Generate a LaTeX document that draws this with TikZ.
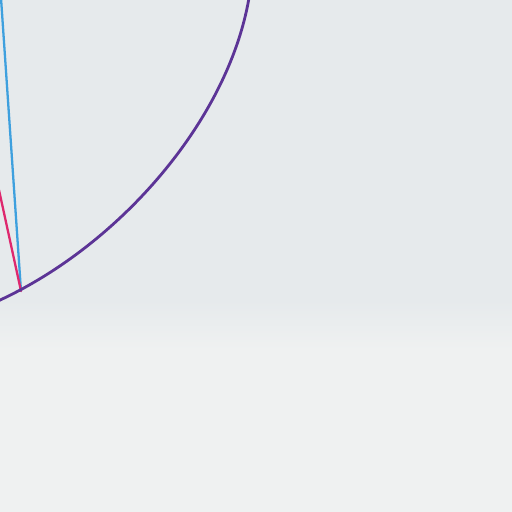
\documentclass[tikz,border=0pt]{standalone}
\usetikzlibrary{calc}
\definecolor{paper}{RGB}{230,234,236}
\definecolor{paperlow}{RGB}{239,241,241}
\definecolor{inkpurple}{RGB}{92,52,150}
\definecolor{inkblue}{RGB}{62,160,222}
\definecolor{inkpink}{RGB}{222,40,110}
\begin{document}
\begin{tikzpicture}[x=0.02cm, y=-0.02cm]
  \tikzstyle{pen} = [line width=1.3pt, line cap=round]
  \fill[paper] (0, 0) rectangle (512, 512);
  \shade[top color=paper, bottom color=paperlow] (0, 300) rectangle (512, 350);
  \fill[paperlow] (0, 350) rectangle (512, 512);
  \useasboundingbox (0, 0) rectangle (512, 512);
  \coordinate (top) at (249, -2);
  \coordinate (foot) at (21, 291);
  \coordinate (edge) at (-2, 301);
  \draw[pen, inkblue] (1, -2) -- (foot);
  \draw[pen, inkpink] (-1, 190) -- (foot);
  \draw[pen, inkpurple, line width=1.6pt] (top) .. controls (228, 120) and (120, 245) .. (edge);
\end{tikzpicture}
\end{document}
